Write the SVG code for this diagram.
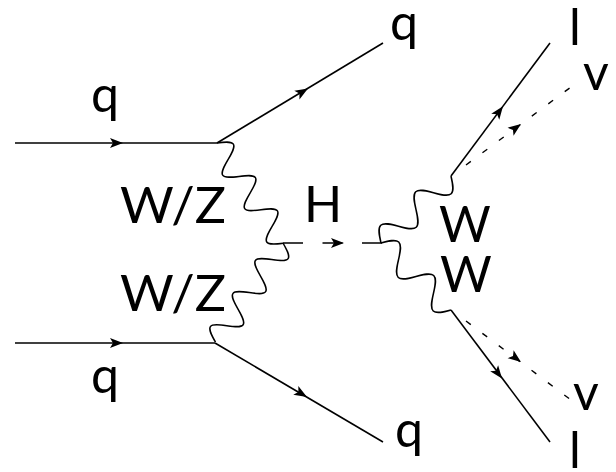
<svg xmlns="http://www.w3.org/2000/svg" xmlns:xlink="http://www.w3.org/1999/xlink" width="616" height="472" viewBox="0 0 616 472">
<style>
.f{fill:none;stroke:#000;stroke-width:1.6;stroke-linecap:butt}
.w{fill:none;stroke:#000;stroke-width:1.5}
.hd{stroke-dasharray:20 19.5}
.nu{stroke-dasharray:6 14.5;stroke-width:1.4}
.t{font-family:Lato,"Open Sans","Liberation Sans",sans-serif;font-size:50px;fill:#000}
</style>
<defs>
<path id="ah" d="M0,0 L-13,-5 L-10,0 L-13,5 Z" fill="#000"/>
<path id="wl" d="M0,0 c3.26,-6.66 6.38,-13 10,-13 s6.74,6.34 10,13 s6.38,13 10,13 s6.74,-6.34 10,-13 s6.38,-13 10,-13 s6.74,6.34 10,13 s6.38,13 10,13 s6.74,-6.34 10,-13 s6.38,-13 10,-13 s6.74,6.34 10,13 s6.38,13 10,13 s6.74,-6.34 10,-13"/>
<path id="wr" d="M0,0 c3.91,-6.66 7.66,-13 12,-13 s8.09,6.34 12,13 s7.66,13 12,13 s8.09,-6.34 12,-13 s7.66,-13 12,-13 s8.09,6.34 12,13 s7.66,13 12,13 s8.09,-6.34 12,-13"/>
</defs>
<rect width="616" height="472" fill="#fff"/>
<g id="connectors">
<line class="f" x1="15" y1="143" x2="217" y2="143"/>
<line class="f" x1="15" y1="343" x2="215" y2="343"/>
<line class="f" x1="217" y1="143" x2="383" y2="43"/>
<line class="f" x1="215" y1="343" x2="383" y2="442"/>
<line class="f hd" x1="283" y1="243" x2="382" y2="243"/>
<line class="f" x1="451" y1="176" x2="550" y2="43"/>
<line class="f" x1="451" y1="310" x2="550" y2="442"/>
<line class="f nu" x1="466" y1="165" x2="571" y2="87"/>
<line class="f nu" x1="466" y1="321" x2="571" y2="400"/>
<use href="#wl" xlink:href="#wl" class="w" transform="translate(217,143) rotate(56.57)"/>
<use href="#wl" xlink:href="#wl" class="w" transform="translate(283,243) rotate(124.22)"/>
<use href="#wr" xlink:href="#wr" class="w" transform="translate(381,243) rotate(-43.75) scale(1.009,1)"/>
<use href="#wr" xlink:href="#wr" class="w" transform="translate(381,243) rotate(43.75) scale(1.009,1)"/>
<use href="#ah" xlink:href="#ah" transform="translate(123,143)"/>
<use href="#ah" xlink:href="#ah" transform="translate(123,343)"/>
<use href="#ah" xlink:href="#ah" transform="translate(308,88.4) rotate(-31.06)"/>
<use href="#ah" xlink:href="#ah" transform="translate(307,397) rotate(30.5)"/>
<use href="#ah" xlink:href="#ah" transform="translate(344,243)"/>
<use href="#ah" xlink:href="#ah" transform="translate(503,106.3) rotate(-53.4)"/>
<use href="#ah" xlink:href="#ah" transform="translate(502,378.6) rotate(52.85)"/>
<use href="#ah" xlink:href="#ah" transform="translate(521,124) rotate(-36.6)"/>
<use href="#ah" xlink:href="#ah" transform="translate(521,362) rotate(37)"/>
</g>
<g id="q-in-top"><text class="t" x="91" y="112">q</text></g>
<g id="q-in-bottom"><text class="t" x="91" y="393">q</text></g>
<g id="q-out-top"><text class="t" x="390" y="40">q</text></g>
<g id="q-out-bottom"><text class="t" x="395" y="447">q</text></g>
<g id="wz-top"><text class="t" x="120" y="223" textLength="106" lengthAdjust="spacingAndGlyphs">W/Z</text></g>
<g id="wz-bottom"><text class="t" x="120" y="311" textLength="106" lengthAdjust="spacingAndGlyphs">W/Z</text></g>
<g id="higgs"><text class="t" x="304" y="222">H</text></g>
<g id="w-top"><text class="t" x="439" y="242">W</text></g>
<g id="w-bottom"><text class="t" x="440" y="292">W</text></g>
<g id="l-top"><text class="t" x="569" y="45">l</text></g>
<g id="nu-top"><text class="t" x="583" y="90">v</text></g>
<g id="nu-bottom"><text class="t" x="573" y="410">v</text></g>
<g id="l-bottom"><text class="t" x="569" y="468">l</text></g>
</svg>
